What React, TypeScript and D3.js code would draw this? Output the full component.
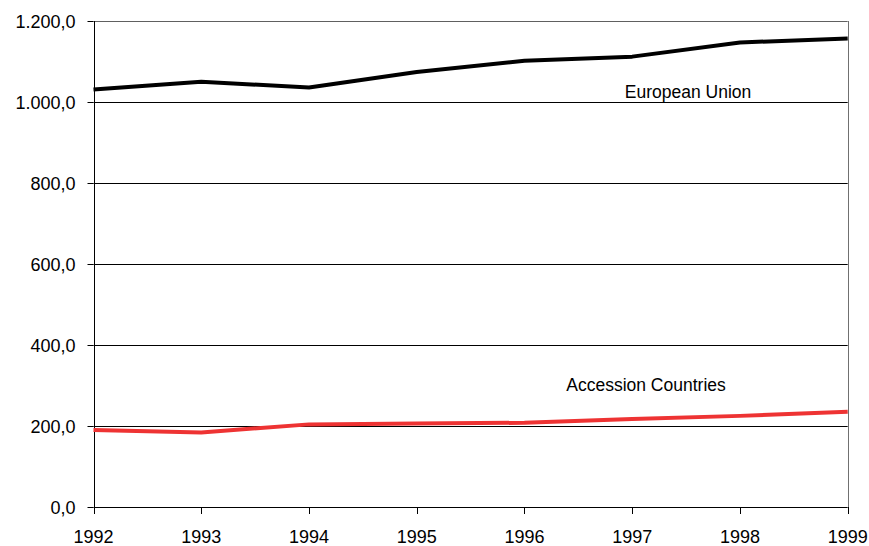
import React from "react";
import * as d3 from "d3";

const years = [1992, 1993, 1994, 1995, 1996, 1997, 1998, 1999];
const euValues = [1031, 1050, 1036, 1074, 1102, 1112, 1147, 1157];
const accessionValues = [190, 184, 204, 206, 208, 217, 225, 235];
const yTicks = [0, 200, 400, 600, 800, 1000, 1200];
const seriesLabels = ["European Union", "Accession Countries"];

const W = 869;
const H = 546;
const left = 93.5;
const right = 847.7;
const top = 21;
const bottom = 507;

export default function App() {
  const x = d3.scaleLinear().domain([1992, 1999]).range([left, right]);
  const y = d3.scaleLinear().domain([0, 1200]).range([bottom, top]);
  const fmt = (v: number) => {
    const s = d3.format(",.1f")(v);
    return s.replace(/,/g, "#").replace(".", ",").replace(/#/g, ".");
  };
  const line = d3
    .line<number>()
    .x((_, i) => x(years[i]))
    .y((d) => y(d));
  const font = "'Liberation Sans', Arial, sans-serif";
  const crisp = (v: number) => Math.round(v) + 0.5;
  return (
    <svg
      width={W}
      height={H}
      style={{ position: "absolute", left: 0, top: 0, background: "#fff" }}
      fontFamily={font}
    >
      {/* gridlines */}
      {yTicks
        .filter((t) => t > 0 && t < 1200)
        .map((t) => (
          <line key={t} x1={left} x2={right} y1={crisp(y(t))} y2={crisp(y(t))} stroke="#000" strokeWidth={1} />
        ))}
      {/* plot border top/right */}
      <line x1={left} x2={right} y1={crisp(y(1200))} y2={crisp(y(1200))} stroke="#606060" strokeWidth={1} />
      <line x1={crisp(right)} x2={crisp(right)} y1={y(1200)} y2={y(0)} stroke="#707070" strokeWidth={1} />
      {/* axes */}
      <line x1={crisp(left)} x2={crisp(left)} y1={y(1200)} y2={y(0)} stroke="#000" strokeWidth={1} />
      <line x1={left} x2={right} y1={crisp(y(0))} y2={crisp(y(0))} stroke="#000" strokeWidth={1} />
      {yTicks.map((t) => (
        <g key={t}>
          <line x1={left - 6} x2={left} y1={crisp(y(t))} y2={crisp(y(t))} stroke="#000" />
          <text x={75.5} y={y(t) + 6.5} textAnchor="end" fontSize={18} fill="#000">
            {fmt(t)}
          </text>
        </g>
      ))}
      {years.map((yr) => (
        <g key={yr}>
          <line x1={crisp(x(yr))} x2={crisp(x(yr))} y1={y(0)} y2={y(0) + 7} stroke="#000" />
          <text x={x(yr)} y={543} textAnchor="middle" fontSize={18} fill="#000">
            {yr}
          </text>
        </g>
      ))}
      <path d={line(euValues) || ""} fill="none" stroke="#000" strokeWidth={4} strokeLinejoin="round" />
      <path d={line(accessionValues) || ""} fill="none" stroke="#ee3333" strokeWidth={4} strokeLinejoin="round" />
      <text x={688} y={98} textAnchor="middle" fontSize={17.5} fill="#000">
        {seriesLabels[0]}
      </text>
      <text x={646} y={391} textAnchor="middle" fontSize={17.5} fill="#000">
        {seriesLabels[1]}
      </text>
    </svg>
  );
}
